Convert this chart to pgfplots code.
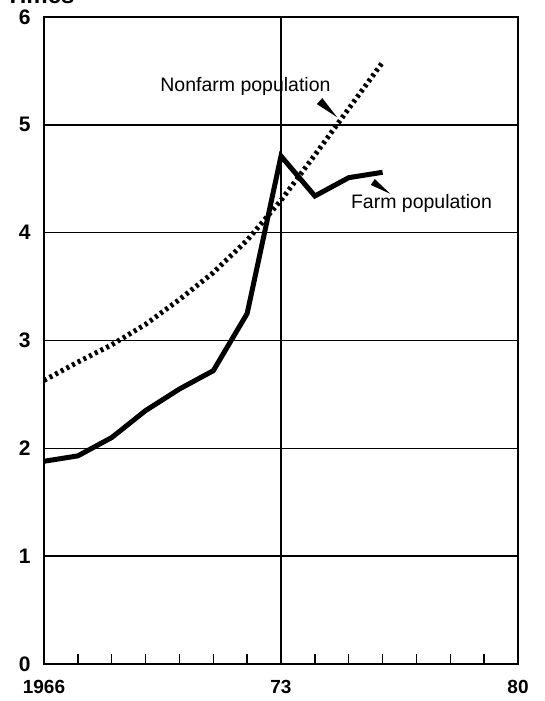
\documentclass[border=0pt]{standalone}
\usepackage{fontspec}
\setmainfont{Liberation Sans}
\usepackage{pgfplots}
\pgfplotsset{compat=1.18}
\begin{document}
\begin{tikzpicture}
\begin{axis}[
  name=ax,
  scale only axis,
  width=474pt, height=647pt,
  xmin=1966, xmax=1980, ymin=0, ymax=6,
  axis line style={line width=1.8pt},
  xtick={1966,1973,1980},
  xticklabels={1966,73,80},
  minor xtick={1967,...,1979},
  ytick={0,1,2,3,4,5,6},
  yticklabels={0,1,2,3,4,5,6},
  tick pos=left,
  tick align=inside,
  major tick length=0pt,
  minor tick length=10pt,
  minor tick style={line width=1.4pt, black},
  ymajorgrids,
  extra x ticks={1973},
  extra x tick labels={},
  extra x tick style={grid=major, major grid style={line width=1.5pt, black}},
  major grid style={line width=1.5pt, black},
  xticklabel style={font=\fontsize{19}{21}\selectfont\bfseries, yshift=-13pt},
  yticklabel style={font=\fontsize{21}{23}\selectfont\bfseries, xshift=-10pt},
  clip=false,
]
% Nonfarm population (dotted)
\addplot[black, line width=5pt, dash pattern=on 3pt off 3.4pt] coordinates {
(1966,2.63) (1967,2.80) (1968,2.96) (1969,3.15) (1970,3.38) (1971,3.63)
(1972,3.93) (1973,4.30) (1974,4.72) (1975,5.15) (1976,5.58)
};
% Farm population (solid)
\addplot[black, line width=5pt, line join=miter] coordinates {
(1966,1.88) (1967,1.93) (1968,2.10) (1969,2.35) (1970,2.55) (1971,2.72)
(1972,3.25) (1973,4.71) (1974,4.34) (1975,4.51) (1976,4.56)
};
\node[font=\fontsize{19.5}{22}\selectfont] at (axis cs:1971.95,5.36) {Nonfarm population};
\node[font=\fontsize{19.5}{22}\selectfont] at (axis cs:1977.15,4.27) {Farm population};
% pointers
\fill[black] (axis cs:1974.22,5.248) -- (axis cs:1974.06,5.192) -- (axis cs:1974.66,5.07) -- cycle;
\fill[black] (axis cs:1975.77,4.497) -- (axis cs:1975.65,4.443) -- (axis cs:1976.23,4.36) -- cycle;
\node[font=\fontsize{24}{26}\selectfont\bfseries, anchor=base west] at ([xshift=-42pt,yshift=13pt]rel axis cs:0,1) {Times};
\end{axis}
\pgfresetboundingbox
\useasboundingbox ([xshift=-44pt,yshift=-37pt]ax.south west) rectangle ([xshift=500pt,yshift=664pt]ax.south west);
\end{tikzpicture}
\end{document}
